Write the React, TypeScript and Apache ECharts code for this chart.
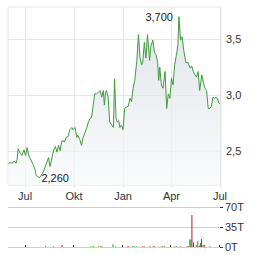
import React, { useEffect, useRef } from "react";
import * as echarts from "echarts";

// calendar days from 2023-05-30 to 2024-07-03 (category axis)
const START = Date.UTC(2023, 4, 30);
const DAY_COUNT = 401;
const days: string[] = [];
for (let i = 0; i < DAY_COUNT; i++) {
  days.push(new Date(START + i * 86400000).toISOString().slice(0, 10));
}

const monthLabels: Record<string, string> = { "01": "Jan", "04": "Apr", "07": "Jul", "10": "Okt" };
const yTicks = [2.5, 3.0, 3.5];
const volTicks = [0, 35, 70];

// price: day offset from start, closing price
const priceDays = [
  0, 4, 8, 11, 15, 17, 19, 23, 26, 30, 33, 36, 39, 43, 47, 51, 53, 56, 59, 62,
  66, 69, 73, 76, 79, 83, 86, 89, 92, 95, 98, 101, 103, 106, 109, 113, 116, 120, 122, 126,
  129, 131, 135, 138, 141, 145, 148, 151, 154, 157, 160, 163, 166, 169, 173, 176, 179, 181, 183, 185,
  188, 191, 195, 198, 200, 203, 205, 208, 210, 213, 216, 219, 222, 226, 229, 232, 235, 238, 242, 245,
  248, 251, 253, 256, 259, 262, 266, 268, 272, 275, 278, 281, 283, 285, 288, 291, 295, 298, 301, 304,
  307, 310, 313, 317, 319, 321, 324, 327, 330, 334, 338, 342, 345, 348, 351, 354, 357, 360, 364, 367,
  370, 373, 376, 379, 382, 385, 388, 391, 393, 396, 398,
];
const prices = [
  2.38, 2.40, 2.39, 2.41, 2.39, 2.42, 2.52, 2.48, 2.46, 2.51, 2.46, 2.53, 2.46, 2.42, 2.38, 2.33, 2.28, 2.27, 2.26, 2.28,
  2.31, 2.35, 2.40, 2.44, 2.36, 2.45, 2.51, 2.54, 2.49, 2.55, 2.50, 2.59, 2.59, 2.58, 2.62, 2.63, 2.69, 2.71, 2.69, 2.71,
  2.62, 2.64, 2.60, 2.55, 2.62, 2.67, 2.71, 2.76, 2.79, 2.80, 2.91, 3.01, 3.01, 3.02, 3.04, 2.98, 3.04, 2.91, 3.02, 3.04,
  2.98, 2.76, 2.73, 2.71, 3.14, 2.79, 2.76, 2.77, 2.71, 2.73, 2.69, 2.88, 2.89, 2.90, 2.97, 2.94, 3.06, 3.13, 3.31, 3.54,
  3.33, 3.27, 3.29, 3.47, 3.33, 3.54, 3.31, 3.43, 3.49, 3.38, 3.36, 3.29, 3.13, 3.25, 3.09, 3.06, 3.21, 2.88, 3.01, 2.97,
  3.15, 3.09, 3.27, 3.38, 3.45, 3.70, 3.49, 3.52, 3.40, 3.29, 3.29, 3.24, 3.26, 3.21, 3.18, 3.16, 3.21, 3.04, 3.18, 3.11,
  3.06, 3.04, 2.88, 2.88, 2.90, 2.98, 2.97, 2.98, 2.97, 2.93, 2.92,
];

// volume (thousands): day offset, amount, up (1) / down (0)
const volDays = [
  71, 86, 102, 156, 160, 162, 171, 175, 177, 198, 203, 226, 228, 235, 238, 242, 254, 257, 268, 274,
  276, 290, 292, 295, 315, 318, 325, 338, 340, 343, 345, 347, 350, 355, 358, 361, 363, 365, 368, 371, 381,
];
const volumes = [
  2, 1.5, 3.5, 1.5, 1.5, 1.5, 1.5, 1.5, 1.5, 5, 1.5, 1.5, 1.5, 1.5, 1.5, 1.5, 1.5, 1.5, 1.5, 1.5,
  1.5, 1.5, 1.5, 1.5, 1.5, 1.5, 1.5, 1.5, 1.5, 13, 13, 56, 8, 3, 10, 2, 7, 14, 3.5, 3, 1.5,
];
const volUp = [
  1, 1, 0, 1, 1, 1, 1, 0, 0, 1, 1, 1, 0, 1, 1, 1, 0, 1, 0, 0,
  0, 1, 1, 0, 1, 1, 0, 0, 0, 1, 1, 0, 0, 0, 1, 0, 1, 0, 0, 0, 0,
];

const isQuarterStart = (_i: number, v: string) =>
  v.slice(8, 10) === "01" && monthLabels[v.slice(5, 7)] !== undefined;

const FONT = "Arial, 'Liberation Sans', sans-serif";
const fmtDe = (v: number, d: number) => v.toFixed(d).replace(".", ",");

export default function App() {
  const ref = useRef<HTMLDivElement>(null);
  useEffect(() => {
    document.body.style.margin = "0";
    const chart = echarts.init(ref.current!, null, { renderer: "svg" });
    const priceData = priceDays.map((d, i) => [d, prices[i]]);
    const volData = volDays.map((d, i) => ({
      value: [d, volumes[i]],
      itemStyle: { color: volUp[i] ? "#2a9a2a" : "#b22222" },
    }));
    chart.setOption({
      animation: false,
      textStyle: { fontFamily: FONT },
      grid: [
        { left: 8, top: 7, width: 213, height: 178, show: true, borderColor: "#e6e6e6", borderWidth: 1, backgroundColor: "#fff" },
        { left: 8, top: 207, width: 212, height: 40 },
      ],
      xAxis: [
        {
          type: "category",
          gridIndex: 0,
          data: days,
          boundaryGap: false,
          axisLine: { show: false },
          axisTick: { show: true, interval: isQuarterStart, length: 3, lineStyle: { color: "#e6e6e6" } },
          axisLabel: {
            interval: isQuarterStart,
            formatter: (v: string) => monthLabels[v.slice(5, 7)],
            fontSize: 11,
            color: "#333",
            margin: 5,
            fontFamily: FONT,
          },
          splitLine: { show: true, interval: isQuarterStart, lineStyle: { color: "#e6e6e6", width: 1 } },
        },
        {
          type: "category",
          gridIndex: 1,
          data: days,
          boundaryGap: false,
          position: "top",
          axisLine: { show: false },
          axisTick: { show: true, interval: isQuarterStart, length: 2, lineStyle: { color: "#222" } },
          axisLabel: { show: false },
          splitLine: { show: false },
        },
      ],
      yAxis: [
        {
          type: "value",
          gridIndex: 0,
          position: "right",
          min: 2.196,
          max: 3.786,
          axisLine: { show: false },
          axisTick: { show: false, customValues: yTicks },
          axisLabel: {
            customValues: yTicks,
            formatter: (v: number) => fmtDe(v, 1),
            fontSize: 11,
            color: "#333",
            margin: 5,
            fontFamily: FONT,
          },
          splitLine: { show: true, lineStyle: { color: "#e6e6e6", width: 1 } },
        },
        {
          type: "value",
          gridIndex: 1,
          position: "right",
          min: 0,
          max: 70,
          interval: 35,
          axisLine: { show: false },
          axisTick: { show: true, length: 3, lineStyle: { color: "#333" } },
          axisLabel: {
            formatter: (v: number) => v + "T",
            fontSize: 11,
            color: "#333",
            margin: 5,
            fontFamily: FONT,
          },
          splitLine: { show: true, lineStyle: { color: "#cfcfcf", width: 1 } },
        },
      ],
      series: [
        {
          type: "line",
          xAxisIndex: 0,
          yAxisIndex: 0,
          data: priceData,
          showSymbol: false,
          symbol: "none",
          lineStyle: { color: "#3f9b3f", width: 1 },
          areaStyle: {
            color: new echarts.graphic.LinearGradient(0, 0, 0, 1, [
              { offset: 0, color: "#d3dae1" },
              { offset: 1, color: "#f8f9fa" },
            ]),
          },
          markPoint: {
            symbol: "circle",
            symbolSize: 0,
            silent: true,
            label: {
              show: true,
              fontSize: 11,
              color: "#222",
              fontFamily: FONT,
              formatter: (p: any) => fmtDe(p.value, 3),
            },
            data: [
              { type: "max", label: { position: "left", distance: 6 } },
              { type: "min", label: { position: "right", distance: 2 } },
            ],
          },
        },
        {
          type: "bar",
          xAxisIndex: 1,
          yAxisIndex: 1,
          data: volData,
          barWidth: 1,
        },
      ],
    });
    return () => chart.dispose();
  }, []);
  return <div ref={ref} style={{ width: 264, height: 255 }} />;
}
